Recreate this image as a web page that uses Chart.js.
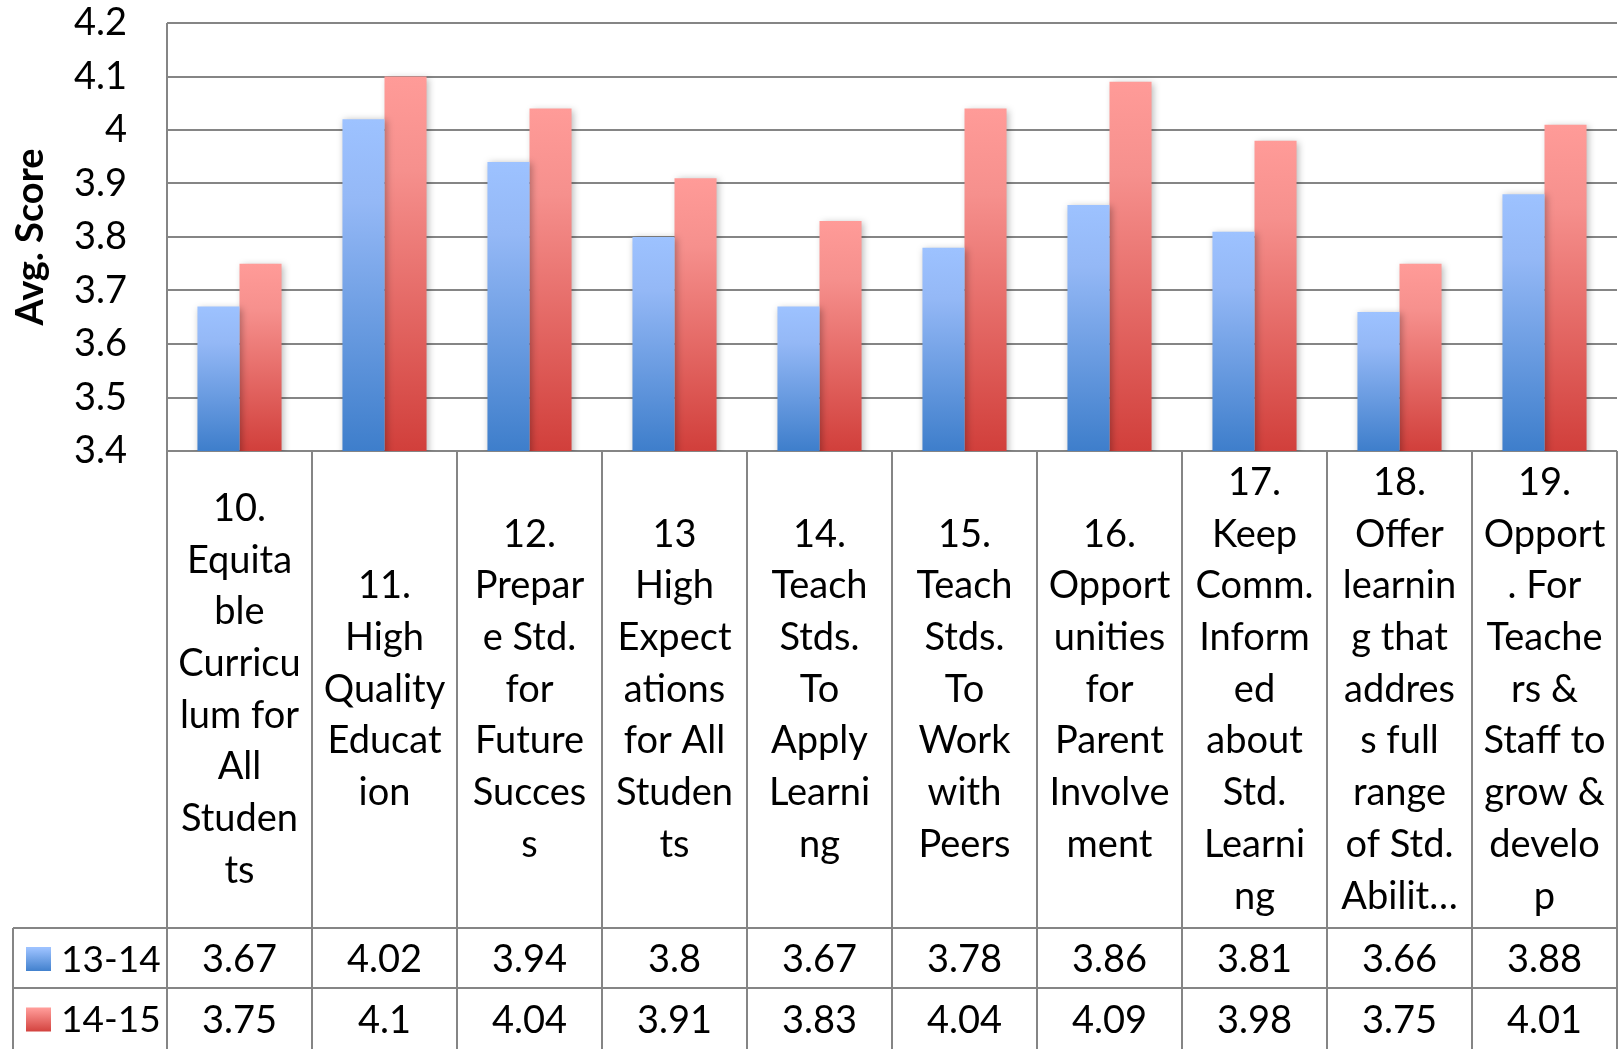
<!DOCTYPE html>
<html>
<head>
  <title>Avg. Score by Item</title>
  <script src="https://cdn.jsdelivr.net/npm/chart.js"></script>
  <style>
    body { margin: 0; background: #fff; }
    #wrap { width: 1622px; height: 1049px; }
  </style>
</head>
<body>
  <div id="wrap"><canvas id="score-chart"></canvas></div>
  <script>
    // category labels, wrapped the way the sheet wraps them
    var categories = [
      ['10.', 'Equita', 'ble', 'Curricu', 'lum for', 'All', 'Studen', 'ts'],
      ['11.', 'High', 'Quality', 'Educat', 'ion'],
      ['12.', 'Prepar', 'e Std.', 'for', 'Future', 'Succes', 's'],
      ['13', 'High', 'Expect', 'ations', 'for All', 'Studen', 'ts'],
      ['14.', 'Teach', 'Stds.', 'To', 'Apply', 'Learni', 'ng'],
      ['15.', 'Teach', 'Stds.', 'To', 'Work', 'with', 'Peers'],
      ['16.', 'Opport', 'unities', 'for', 'Parent', 'Involve', 'ment'],
      ['17.', 'Keep', 'Comm.', 'Inform', 'ed', 'about', 'Std.', 'Learni', 'ng'],
      ['18.', 'Offer', 'learnin', 'g that', 'addres', 's full', 'range', 'of Std.', 'Abilit\u2026'],
      ['19.', 'Opport', '. For', 'Teache', 'rs &', 'Staff to', 'grow &', 'develo', 'p']
    ];
    var seriesNames = ['13-14', '14-15'];
    var scores1314 = [3.67, 4.02, 3.94, 3.8, 3.67, 3.78, 3.86, 3.81, 3.66, 3.88];
    var scores1415 = [3.75, 4.1, 4.04, 3.91, 3.83, 4.04, 4.09, 3.98, 3.75, 4.01];
    var yMin = 3.4, yMax = 4.2, yStep = 0.1;

    var FONT = 'Lato, "Open Sans", sans-serif';
    var GRID = '#858585';
    var blueStops = ['#9dc2ff', '#94b8f6', '#3e7ecb'];
    var redStops = ['#ff9b98', '#f6908d', '#d13f3b'];

    function barGradient(stops) {
      return function(c) {
        var chart = c.chart;
        if (!chart.chartArea || c.raw === undefined) return stops[2];
        var top = chart.scales.y.getPixelForValue(c.raw);
        var g = chart.ctx.createLinearGradient(0, top, 0, chart.chartArea.bottom);
        g.addColorStop(0, stops[0]);
        g.addColorStop(0.25, stops[1]);
        g.addColorStop(1, stops[2]);
        return g;
      };
    }

    var barShadow = {
      id: 'barShadow',
      beforeDatasetsDraw: function(chart) {
        var ctx = chart.ctx;
        ctx.save();
        ctx.shadowColor = 'rgba(0,0,0,0.28)';
        ctx.shadowBlur = 7;
        ctx.shadowOffsetX = 2;
        ctx.shadowOffsetY = 1;
      },
      afterDatasetsDraw: function(chart) {
        chart.ctx.restore();
      }
    };

    // the data table under the plot
    var dataTable = {
      id: 'dataTable',
      afterDraw: function(chart) {
        var ctx = chart.ctx, xs = chart.scales.x, area = chart.chartArea;
        var left = area.left, right = area.right, top = area.bottom;
        var row1 = 928, row2 = 988, bottom = chart.height, tableLeft = 13;
        var colW = (right - left) / categories.length;

        ctx.save();
        ctx.strokeStyle = GRID;
        ctx.lineWidth = 2;
        ctx.beginPath();
        ctx.moveTo(tableLeft, row1); ctx.lineTo(right, row1);
        ctx.moveTo(tableLeft, row2); ctx.lineTo(right, row2);
        ctx.moveTo(tableLeft, row1); ctx.lineTo(tableLeft, bottom);
        ctx.moveTo(left, area.top); ctx.lineTo(left, bottom);
        for (var i = 1; i <= categories.length; i++) {
          var xx = left + i * colW;
          ctx.moveTo(xx, top); ctx.lineTo(xx, bottom);
        }
        ctx.stroke();

        ctx.fillStyle = '#000';
        ctx.font = '38px ' + FONT;
        ctx.textAlign = 'center';
        ctx.textBaseline = 'middle';
        var lh = 51.7, mid = (top + row1) / 2;
        categories.forEach(function(lines, i) {
          var cx = xs.getPixelForValue(i);
          var y0 = mid - (lines.length - 1) * lh / 2;
          lines.forEach(function(t, j) { ctx.fillText(t, cx, y0 + j * lh); });
        });

        var rows = [[scores1314, (row1 + row2) / 2 + 2, blueStops], [scores1415, (row2 + bottom) / 2 + 2, redStops]];
        rows.forEach(function(r, k) {
          r[0].forEach(function(v, i) { ctx.fillText(String(v), xs.getPixelForValue(i), r[1]); });
          var g = ctx.createLinearGradient(0, r[1] - 12, 0, r[1] + 12);
          g.addColorStop(0, r[2][0]);
          g.addColorStop(1, r[2][2]);
          ctx.fillStyle = g;
          ctx.fillRect(26, r[1] - 13, 25, 24);
          ctx.fillStyle = '#000';
          ctx.textAlign = 'left';
          ctx.font = '37px ' + FONT;
          ctx.fillText(seriesNames[k], 61, r[1]);
          ctx.font = '38px ' + FONT;
          ctx.textAlign = 'center';
        });
        ctx.restore();
      }
    };

    var ctx = document.getElementById('score-chart').getContext('2d');
    var chart = new Chart(ctx, {
      type: 'bar',
      data: {
        labels: categories,
        datasets: [{
          label: seriesNames[0],
          data: scores1314,
          backgroundColor: barGradient(blueStops),
          categoryPercentage: 0.58,
          barPercentage: 1
        }, {
          label: seriesNames[1],
          data: scores1415,
          backgroundColor: barGradient(redStops),
          categoryPercentage: 0.58,
          barPercentage: 1
        }]
      },
      options: {
        responsive: true,
        maintainAspectRatio: false,
        animation: false,
        layout: { padding: { left: 0, right: 5, top: 23, bottom: 598 } },
        plugins: { legend: { display: false }, tooltip: { enabled: false } },
        scales: {
          x: { display: false },
          y: {
            min: yMin,
            max: yMax,
            afterFit: function(s) {
              s.width = 167;
              s.paddingTop = 0;
              s.paddingBottom = 0;
            },
            ticks: {
              stepSize: yStep,
              padding: 40,
              color: '#000',
              font: { family: FONT, size: 38 },
              callback: function(v) { return String(Number(v.toFixed(1))); }
            },
            grid: { color: GRID, lineWidth: 2, drawTicks: false },
            border: { display: false },
            title: {
              display: true,
              text: 'Avg. Score',
              color: '#000',
              font: { family: FONT, size: 38, weight: 'bold' },
              padding: { top: 8, bottom: 0 }
            }
          }
        }
      },
      plugins: [barShadow, dataTable]
    });
  </script>
</body>
</html>
